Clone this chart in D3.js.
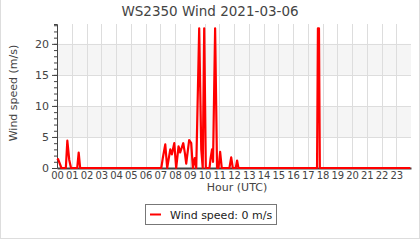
<!DOCTYPE html>
<html><head><meta charset="utf-8">
<script src="https://cdn.jsdelivr.net/npm/d3@7"></script>
<style>
html,body{margin:0;padding:0;background:#fff;}
svg{display:block;font-family:"DejaVu Sans",sans-serif;}
</style></head>
<body><svg id="c" width="420" height="240"></svg>
<script>
// Wind speed readings: hour of day (UTC) and speed (m/s)
const hours = [0.00,0.08,0.30,0.60,0.70,0.83,0.95,1.37,1.47,1.57,
  7.07,7.18,7.34,7.47,7.68,7.79,7.95,8.08,8.24,8.35,8.56,8.67,8.76,8.96,9.10,9.21,9.34,9.44,
  9.64,9.78,9.88,9.98,10.09,10.34,10.41,10.51,10.58,10.72,10.85,10.95,11.06,11.17,
  11.69,11.81,11.92,12.12,12.21,12.30,17.63,17.69,17.76,17.82,23.95];
const speeds = [1.5,1.4,0,0,4.4,1.3,0,0,2.5,0,
  0,1.7,3.8,0,3.0,2.2,4.0,0,3.5,2.5,4.0,2.4,0.7,4.5,4.0,0,1.6,0,
  22.5,3.0,0,22.5,0,0,1.5,3.0,1.0,22.5,0,0,2.6,0,
  0,1.7,0,0,1.2,0,0,22.5,22.5,0,0];
const hourLabels = d3.range(24).map(h => String(h).padStart(2,"0"));
const yTicks = [0,5,10,15,20];
const title = "WS2350 Wind 2021-03-06";
const seriesName = "Wind speed: 0 m/s";

const svg = d3.select("#c");
const L = 57, R = 411, T = 24, B = 168;
const x = d3.scaleLinear().domain([0,24]).range([L,R]);
const y = d3.scaleLinear().domain([0,23.2]).range([B,T]);

// frame
svg.append("rect").attr("x",0.5).attr("y",-2).attr("width",419).attr("height",240.5)
  .attr("fill","none").attr("stroke","#ddd");

// bands
[[5,10],[15,20]].forEach(([a,b]) => {
  svg.append("rect").attr("x",L).attr("y",y(b)).attr("width",R-L).attr("height",y(a)-y(b)).attr("fill","#f5f5f5");
});
// grid
svg.append("g").selectAll("line").data(d3.range(1,24)).join("line")
  .attr("x1",d=>Math.round(x(d))+0.5).attr("x2",d=>Math.round(x(d))+0.5)
  .attr("y1",T).attr("y2",B).attr("stroke","#ddd");
svg.append("g").selectAll("line").data(yTicks.slice(1)).join("line")
  .attr("x1",L).attr("x2",R).attr("y1",d=>Math.round(y(d))+0.5).attr("y2",d=>Math.round(y(d))+0.5)
  .attr("stroke","#ddd");

// y axis
const ya = svg.append("g").attr("transform",`translate(${L},0)`)
  .call(d3.axisLeft(y).tickValues(d3.range(0,24,1)).tickSize(3).tickFormat(""));
ya.select(".domain").attr("stroke","#444");
ya.selectAll(".tick line").attr("stroke","#444");
const ym = svg.append("g").attr("transform",`translate(${L},0)`)
  .call(d3.axisLeft(y).tickValues(yTicks).tickSize(5).tickPadding(3));
ym.select(".domain").remove();
ym.selectAll(".tick line").attr("stroke","#444");
ym.selectAll("text").attr("fill","#444").attr("font-size",11).attr("font-family","DejaVu Sans");

// x axis
const xa = svg.append("g").attr("transform",`translate(0,${B})`)
  .call(d3.axisBottom(x).tickValues(d3.range(24)).tickFormat((d,i)=>hourLabels[i]).tickSize(0).tickPadding(4));
xa.select(".domain").attr("stroke","#444").attr("stroke-width",2);
xa.selectAll("text").attr("fill","#444").attr("font-size",10).attr("font-family","DejaVu Sans");

// line
const data = hours.map((h,i)=>[h,speeds[i]]);
svg.append("path").datum(data)
  .attr("d", d3.line().x(d=>x(d[0])).y(d=>y(d[1])))
  .attr("fill","none").attr("stroke","#f00").attr("stroke-width",2.2).attr("stroke-linejoin","round");

// titles
svg.append("text").attr("x",210).attr("y",15.5).attr("text-anchor","middle")
  .attr("font-size",13.5).attr("fill","#444").text(title);
svg.append("text").attr("transform","translate(17,93) rotate(-90)").attr("text-anchor","middle")
  .attr("font-size",11).attr("fill","#444").text("Wind speed (m/s)");
svg.append("text").attr("x",237).attr("y",191).attr("text-anchor","middle")
  .attr("font-size",11).attr("fill","#444").text("Hour (UTC)");

// legend
const lg = svg.append("g");
lg.append("rect").attr("x",145.5).attr("y",204.5).attr("width",131).attr("height",20)
  .attr("fill","#fff").attr("stroke","#777");
lg.append("line").attr("x1",150).attr("x2",161).attr("y1",214.5).attr("y2",214.5)
  .attr("stroke","#f00").attr("stroke-width",2);
lg.append("text").attr("x",170).attr("y",218.5).attr("font-size",11).attr("fill","#222").text(seriesName);
</script></body></html>
